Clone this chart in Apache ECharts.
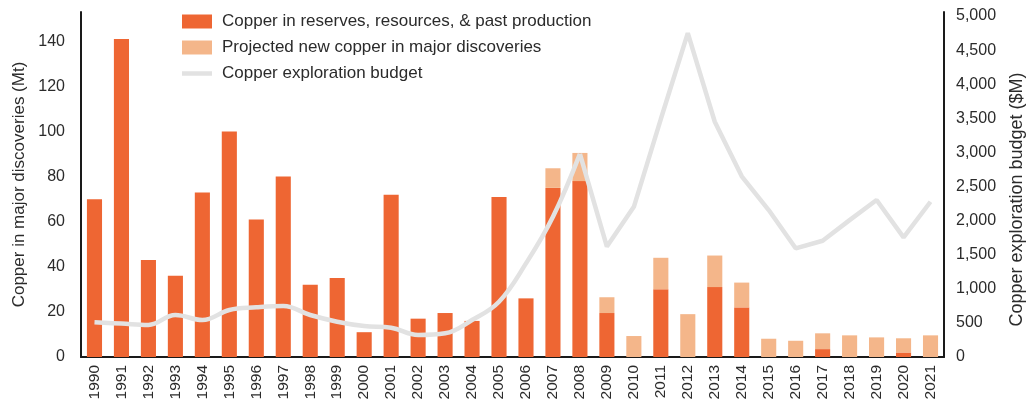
<!DOCTYPE html>
<html><head><meta charset="utf-8">
<script src="https://cdn.jsdelivr.net/npm/echarts@6/dist/echarts.min.js"></script>
<style>html,body{margin:0;padding:0;background:#fff}#c{width:1034px;height:411px}</style>
</head><body><div id="c"></div>
<script>
const years = ['1990','1991','1992','1993','1994','1995','1996','1997','1998','1999','2000','2001','2002','2003','2004','2005','2006','2007','2008','2009','2010','2011','2012','2013','2014','2015','2016','2017','2018','2019','2020','2021'];
const reserves = [70,141,43,36,73,100,61,80,32,35,11,72,17,19.5,16,71,26,75,78,19.5,0,30,0,31,22,0,0,3.5,0,0,2,0];
const projected = [0,0,0,0,0,0,0,0,0,0,0,0,0,0,0,0,0,8.7,12.5,7,9.3,14,19,14,11,8.1,7.2,7,9.6,8.7,6.3,9.6];
const budget = [510,490,470,616,542,689,728,748,616,518,454,430,322,347,542,811,1373,2057,2980,1620,2203,3490,4750,3450,2650,2155,1594,1705,2008,2302,1755,2277];
const leftTicks = [0,20,40,60,80,100,120,140];
const rightTicks = [0,500,1000,1500,2000,2500,3000,3500,4000,4500,5000];
const splitIdx = years.indexOf('2008');

const font = '"Liberation Sans", Arial, sans-serif';
const txt = '#2b2b2b';
const chart = echarts.init(document.getElementById('c'));
const budgetSmooth = budget.map((v,i)=> i<=splitIdx ? v : null);
const budgetSharp = budget.map((v,i)=> i>=splitIdx ? v : null);
chart.setOption({
  animation:false,
  textStyle:{fontFamily:font},
  grid:{left:81,right:88,top:12,bottom:54},
  legend:{
    orient:'vertical', left:182, top:13, padding:0, itemWidth:30, itemHeight:14, itemGap:9,
    textStyle:{fontSize:17,color:txt,fontFamily:font,padding:[0,0,0,5]},
    data:[
      {name:'Copper in reserves, resources, & past production', icon:'rect'},
      {name:'Projected new copper in major discoveries', icon:'rect'},
      {name:'Copper exploration budget', icon:'path://M0,0H30V4.5H0Z'}
    ]
  },
  xAxis:{
    type:'category', data:years,
    axisLine:{lineStyle:{color:'#1a1a1a',width:2}},
    axisTick:{show:false},
    axisLabel:{rotate:90,fontSize:15.5,color:txt,margin:8,fontFamily:font}
  },
  yAxis:[{
    type:'value', min:0, max:153, interval:20,
    name:'Copper in major discoveries (Mt)', nameLocation:'middle', nameGap:53,
    nameTextStyle:{fontSize:17,color:txt,fontFamily:font},
    axisLine:{show:true,lineStyle:{color:'#1a1a1a',width:2}},
    axisTick:{show:false}, splitLine:{show:false},
    axisLabel:{fontSize:16,color:txt,margin:16,showMaxLabel:false,fontFamily:font,
      formatter:v=> leftTicks.includes(v)? String(v):''}
  },{
    type:'value', min:0, max:5060, interval:500, position:'right',
    name:'Copper exploration budget ($M)', nameLocation:'middle', nameGap:64,
    nameTextStyle:{fontSize:18,color:txt,fontFamily:font,padding:[0,30,0,0]},
    axisLine:{show:true,lineStyle:{color:'#1a1a1a',width:2}},
    axisTick:{show:false}, splitLine:{show:false},
    axisLabel:{fontSize:16,color:txt,margin:12,showMaxLabel:false,fontFamily:font,
      formatter:v=> rightTicks.includes(v)? v.toLocaleString('en-US'):''}
  }],
  series:[
    {name:'Copper in reserves, resources, & past production', type:'bar', stack:'cu', data:reserves, barWidth:'56%', itemStyle:{color:'#ee6633'}},
    {name:'Projected new copper in major discoveries', type:'bar', stack:'cu', data:projected, barWidth:'56%', itemStyle:{color:'#f4b68a'}},
    {name:'Copper exploration budget', type:'line', yAxisIndex:1, data:budgetSmooth, smooth:0.4, symbol:'none', lineStyle:{color:'#e2e2e2',width:4.5}, itemStyle:{color:'#e2e2e2'}, z:5},
    {name:'Copper exploration budget', type:'line', yAxisIndex:1, data:budgetSharp, smooth:false, symbol:'none', lineStyle:{color:'#e2e2e2',width:4.5}, itemStyle:{color:'#e2e2e2'}, z:5}
  ]
});
</script></body></html>
